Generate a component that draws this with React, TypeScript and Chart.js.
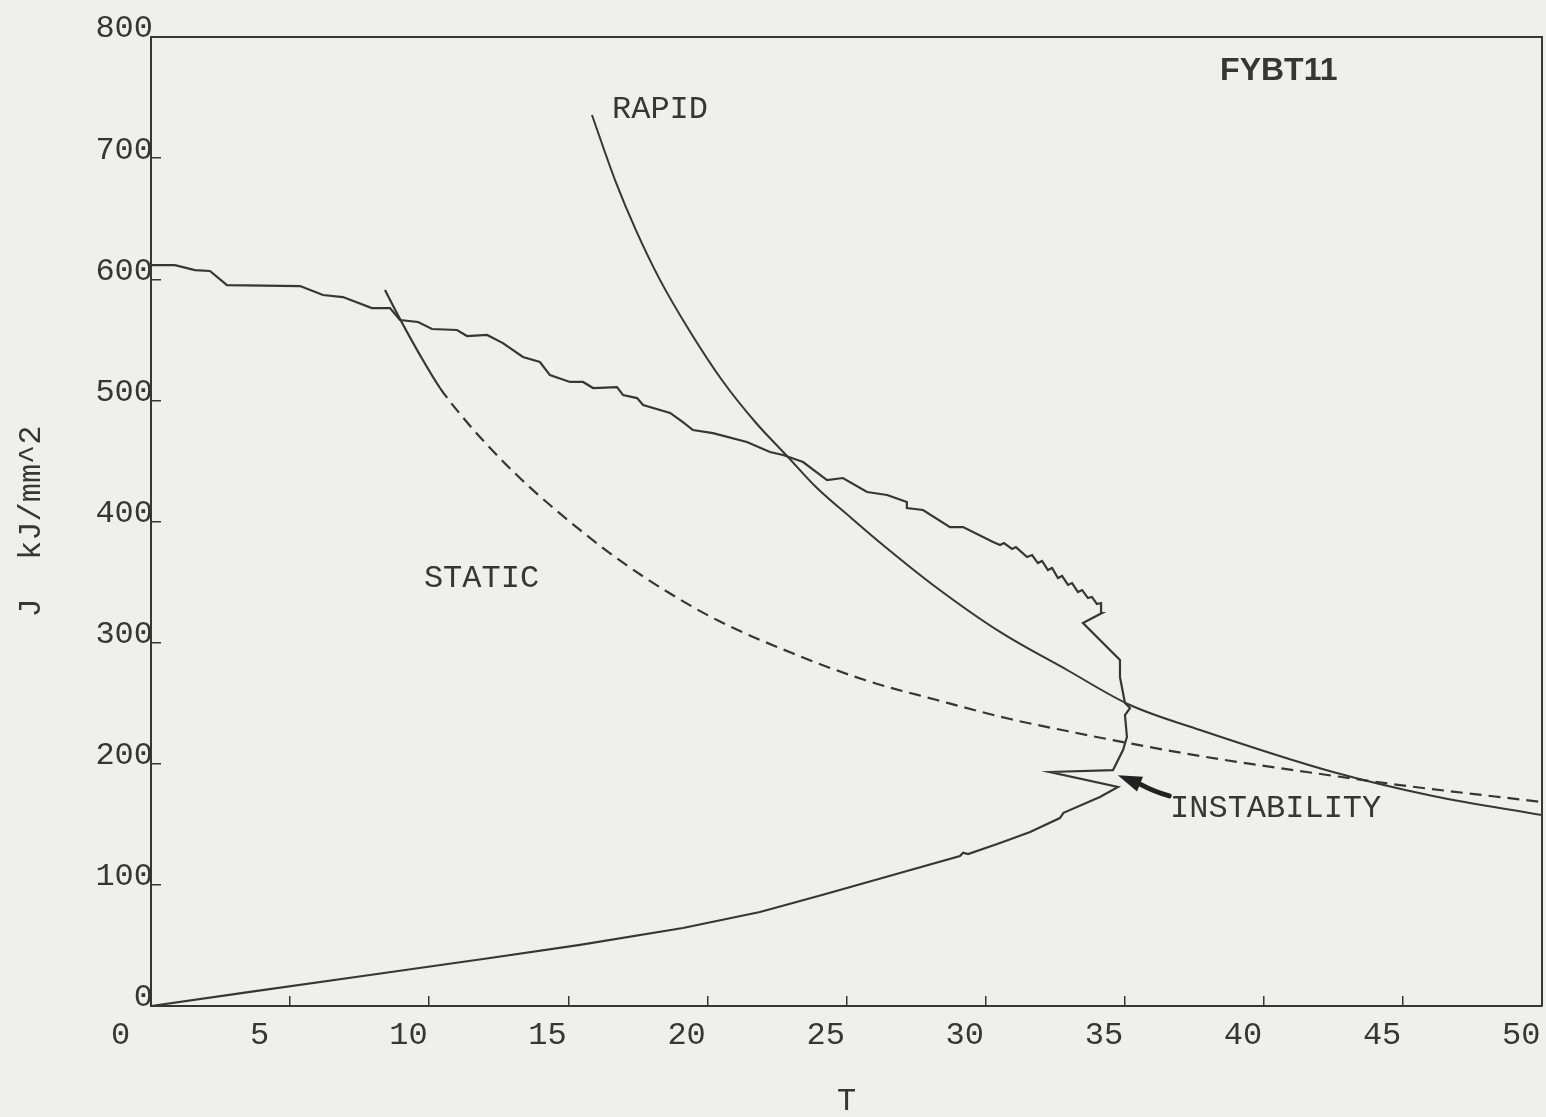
import React, { useEffect, useRef } from "react";
import { Chart, registerables } from "chart.js";

Chart.register(...registerables);

// ---------- data ----------
// Measured trajectory (starts at the origin, rises, zig-zags at the instability, then returns left)
const measuredT = [
  0, 3.56, 7.87, 12.19, 15.42, 19.12, 21.89, 24.12, 26.92, 29.08, 29.19, 29.37, 30.52, 31.6, 32.67, 32.8, 34.11, 34.76,
  32.31, 34.58,
  34.94, 35.08, 35.01, 35.19, 35.01, 34.94, 34.83, 34.83, 34.11, 33.5, 34.18,
  34.15, 34.0, 33.82, 33.68, 33.47, 33.32, 33.11, 32.96, 32.75, 32.6, 32.39, 32.24, 32.03, 31.88, 31.67, 31.49, 31.09, 30.95, 30.66, 30.52,
  30.27, 29.19, 28.72, 27.75, 27.17, 27.17, 26.46, 25.74, 24.87, 24.3, 23.44, 22.72, 22.25, 21.42, 20.2, 19.48, 19.12, 18.66,
  17.69, 17.47, 16.97, 16.75, 15.89, 15.53, 15.06, 14.34, 13.98, 13.37, 12.65, 12.08, 11.36, 11.0, 10.1, 9.6, 8.95, 8.59,
  7.94, 6.9, 6.18, 5.36, 2.73, 2.12, 1.58, 0.86, 0,
];
const measuredJ = [
  0, 11.6, 25.6, 39.6, 50.4, 64.4, 77.6, 91.6, 109.8, 123.8, 126.5, 125.5, 134.6, 143.6, 155.2, 159.5, 172.5, 180.8,
  193.2, 194.8,
  211.3, 222.1, 240.2, 246.0, 250.1, 258.4, 271.6, 285.6, 302.2, 316.2, 324.4,
  332.7, 331.9, 337.7, 336.8, 343.4, 341.8, 349.2, 347.6, 355.0, 353.3, 361.6, 359.9, 367.4, 365.7, 372.3, 370.7, 378.9, 377.3, 382.2, 380.6,
  383.1, 395.4, 395.4, 409.5, 411.1, 416.1, 421.9, 424.3, 435.9, 434.2, 449.1, 454.9, 457.4, 465.6, 473.0, 475.5, 482.1, 489.6,
  496.2, 501.9, 504.4, 511.0, 510.2, 515.2, 515.2, 520.9, 531.7, 535.8, 547.3, 554.0, 553.1, 558.1, 558.9, 564.7, 566.3, 576.2,
  576.2, 585.3, 587.0, 594.4, 595.2, 606.8, 607.6, 611.7, 611.7,
];

// RAPID criterion curve
const rapidT = [15.85, 16.68, 17.43, 18.3, 19.34, 20.52, 21.75, 22.83, 23.94, 25.13, 26.31, 28.11, 30.52, 32.93, 35.19, 37.71, 42.49, 46.08, 50];
const rapidJ = [735.6, 681.9, 640.6, 599.3, 558.1, 516.8, 481.3, 454.9, 427.6, 403.7, 380.6, 347.6, 308.8, 277.4, 248.5, 227.9, 193.2, 173.4, 157.7];

// STATIC criterion curve (solid at first, dashed afterwards)
const staticT = [8.41, 8.95, 9.67, 10.39, 11.29, 12.19, 13.26, 14.34, 15.42, 16.93, 18.69, 20.42, 23.04, 25.66, 28.25, 30.88, 32.93, 34.94, 37.71, 41.3, 44.9, 50];
const staticJ = [591.1, 567.2, 537.4, 510.2, 483.8, 460.7, 435.9, 413.6, 393.0, 366.6, 340.1, 317.8, 291.4, 269.1, 252.6, 236.9, 227.0, 217.9, 206.4, 194.0, 182.4, 168.4];
const staticSolidSegments = 3;

// axes
const xMin = 0, xMax = 50, xStep = 5;
const yMin = 0, yMax = 800, yStep = 100;
const xTitle = "T";
const yTitle = "J  kJ/mm^2";

// text labels placed on the plot (data coordinates: left edge, baseline)
const labelTexts = ["FYBT11", "RAPID", "STATIC", "INSTABILITY"];
const labelT = [38.43, 16.57, 9.81, 36.63];
const labelJ = [764.5, 733.0, 345.9, 156.0];

// arrow pointing at the instability (tail -> tip, data coordinates)
const arrowT = [36.6, 34.75];
const arrowJ = [173.5, 190.5];

// ---------- styles ----------
const INK = "#363636";
const PAPER = "#efefed";
const MONO = "'Liberation Mono', 'DejaVu Sans Mono', monospace";
const SANS = "'Liberation Sans', Arial, sans-serif";

const zip = (xs: number[], ys: number[]) => xs.map((x, i) => ({ x, y: ys[i] }));

const paperPlugin = {
  id: "paper",
  beforeDraw(chart: any) {
    const { ctx } = chart;
    ctx.save();
    ctx.fillStyle = PAPER;
    ctx.fillRect(0, 0, chart.width, chart.height);
    ctx.restore();
  },
  afterDraw(chart: any) {
    const { ctx, chartArea, scales } = chart;
    const { left, top, right, bottom } = chartArea;
    const xs = scales.x;
    const ys = scales.y;
    ctx.save();
    // frame (top & right sides)
    ctx.strokeStyle = INK;
    ctx.lineWidth = 2;
    ctx.beginPath();
    ctx.moveTo(left, top);
    ctx.lineTo(right, top);
    ctx.lineTo(right, bottom);
    ctx.stroke();

    // labels
    ctx.fillStyle = INK;
    ctx.textBaseline = "alphabetic";
    ctx.textAlign = "left";
    labelTexts.forEach((txt, i) => {
      ctx.font = i === 0 ? `bold 32px ${SANS}` : `32px ${MONO}`;
      ctx.fillText(txt, xs.getPixelForValue(labelT[i]), ys.getPixelForValue(labelJ[i]));
    });

    // arrow
    const x0 = xs.getPixelForValue(arrowT[0]);
    const y0 = ys.getPixelForValue(arrowJ[0]);
    const x1 = xs.getPixelForValue(arrowT[1]);
    const y1 = ys.getPixelForValue(arrowJ[1]);
    const ang = Math.atan2(y1 - y0, x1 - x0);
    const headLen = 24;
    const headW = 8;
    const bx = x1 - headLen * Math.cos(ang);
    const by = y1 - headLen * Math.sin(ang);
    ctx.strokeStyle = "#222";
    ctx.lineWidth = 5;
    ctx.lineCap = "round";
    ctx.beginPath();
    ctx.moveTo(x0, y0);
    ctx.quadraticCurveTo((x0 + bx) / 2, (y0 + by) / 2 + 2, bx, by);
    ctx.stroke();
    ctx.fillStyle = "#222";
    ctx.beginPath();
    ctx.moveTo(x1, y1);
    ctx.lineTo(bx + headW * Math.sin(ang), by - headW * Math.cos(ang));
    ctx.lineTo(bx - headW * Math.sin(ang), by + headW * Math.cos(ang));
    ctx.closePath();
    ctx.fill();
    ctx.restore();
  },
};

export default function App() {
  const ref = useRef<HTMLCanvasElement | null>(null);

  useEffect(() => {
    if (!ref.current) return;
    const tickFont = { family: MONO, size: 32 };
    const chart = new Chart(ref.current, {
      type: "scatter",
      data: {
        datasets: [
          {
            label: "Measured",
            data: zip(measuredT, measuredJ),
            showLine: true,
            borderColor: INK,
            borderWidth: 2.2,
            pointRadius: 0,
            tension: 0,
          },
          {
            label: "RAPID",
            data: zip(rapidT, rapidJ),
            showLine: true,
            borderColor: INK,
            borderWidth: 2,
            pointRadius: 0,
            cubicInterpolationMode: "monotone",
          },
          {
            label: "STATIC",
            data: zip(staticT, staticJ),
            showLine: true,
            borderColor: INK,
            borderWidth: 2.2,
            pointRadius: 0,
            cubicInterpolationMode: "monotone",
            segment: {
              borderDash: (c: any) => (c.p0DataIndex >= staticSolidSegments ? [12, 7] : undefined),
            },
          },
        ],
      } as any,
      options: {
        responsive: false,
        animation: false,
        layout: { padding: { left: 0, top: 37, right: 4, bottom: 0 } },
        plugins: { legend: { display: false }, tooltip: { enabled: false } },
        scales: {
          x: {
            type: "linear",
            position: "bottom",
            min: xMin,
            max: xMax,
            afterFit: (s: any) => {
              s.height = 111;
              s.paddingLeft = 0;
              s.paddingRight = 0;
            },
            ticks: {
              stepSize: xStep,
              autoSkip: false,
              maxRotation: 0,
              align: "start",
              labelOffset: -40,
              padding: 20,
              color: INK,
              font: tickFont,
            },
            grid: {
              display: true,
              drawOnChartArea: false,
              drawTicks: true,
              tickLength: -10,
              color: INK,
              lineWidth: 1.5,
            },
            border: { display: true, color: INK, width: 2 },
            title: {
              display: true,
              text: xTitle,
              color: INK,
              font: { family: MONO, size: 32, lineHeight: 1 },
              padding: { top: 0, bottom: -1 },
            },
          },
          y: {
            type: "linear",
            position: "left",
            min: yMin,
            max: yMax,
            afterFit: (s: any) => {
              s.width = 151;
              s.paddingTop = 0;
              s.paddingBottom = 0;
            },
            ticks: {
              stepSize: yStep,
              autoSkip: false,
              crossAlign: "near",
              labelOffset: -8,
              padding: 8,
              color: INK,
              font: tickFont,
            },
            grid: {
              display: true,
              drawOnChartArea: false,
              drawTicks: true,
              tickLength: -10,
              color: INK,
              lineWidth: 1.5,
            },
            border: { display: true, color: INK, width: 2 },
            title: {
              display: true,
              text: yTitle,
              color: INK,
              font: { family: MONO, size: 32, lineHeight: 1 },
              padding: { top: 16, bottom: 0 },
            },
          },
        },
      } as any,
      plugins: [paperPlugin],
    });
    return () => chart.destroy();
  }, []);

  return (
    <div style={{ position: "fixed", left: 0, top: 0, width: 1546, height: 1117 }}>
      <canvas ref={ref} width={1546} height={1117} style={{ display: "block" }} />
    </div>
  );
}
